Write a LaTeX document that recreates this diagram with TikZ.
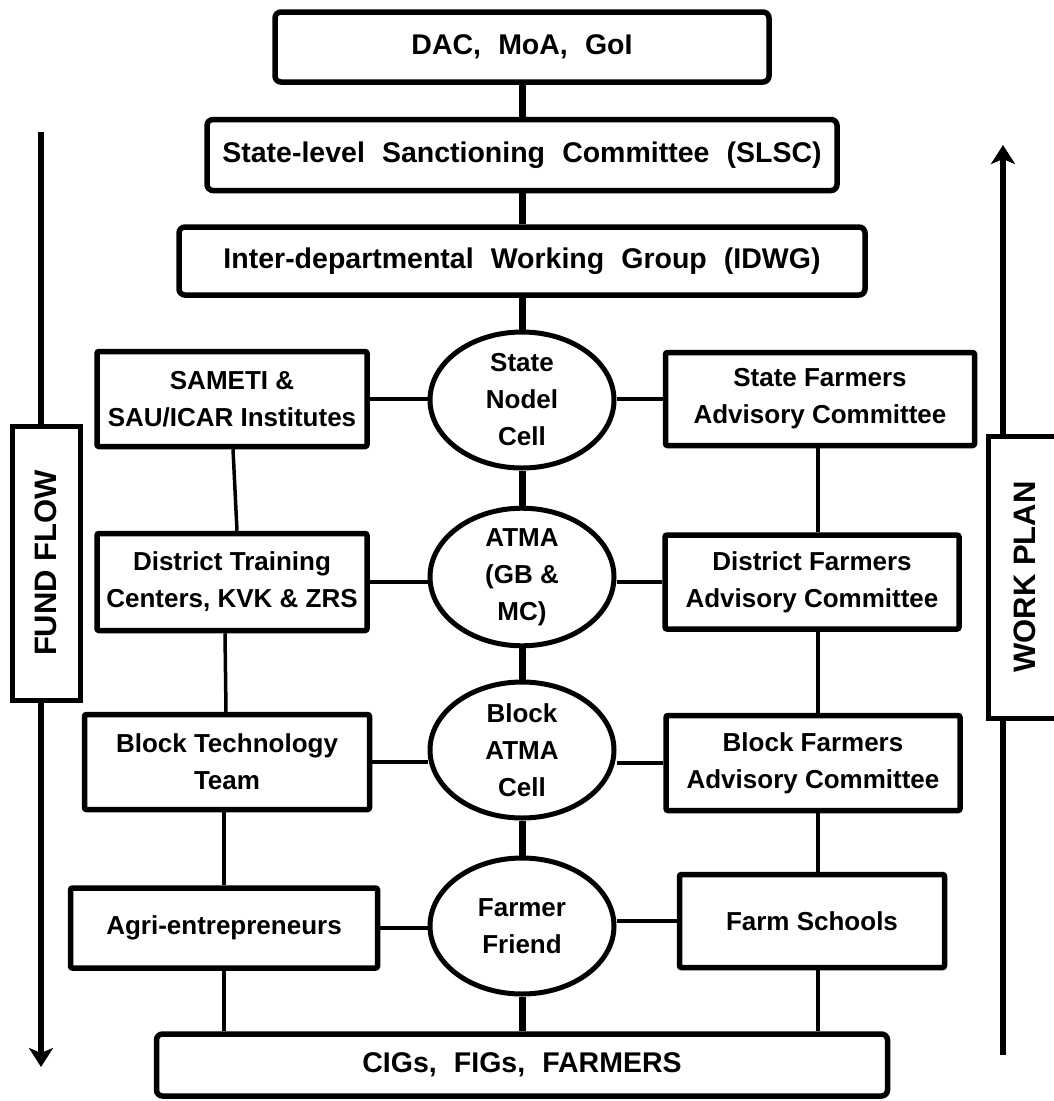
\documentclass[tikz,border=0pt]{standalone}
\usepackage{fontspec}
\setmainfont{Liberation Sans}
\usetikzlibrary{positioning,calc,arrows.meta,shapes.geometric}
\tikzset{>=Stealth}
\newcommand\widegap{\spaceskip=0.6em\relax}

\begin{document}
\begin{tikzpicture}[x=1pt,y=-1pt,
  every node/.style={font=\bfseries\fontsize{26}{37}\selectfont,align=center,inner sep=0pt},
  topbox/.style={draw,line width=5.5pt,rounded corners=6pt,
    font=\bfseries\fontsize{28.5}{37}\selectfont,execute at begin node=\widegap},
  sidebox/.style={draw,line width=5.5pt,rounded corners=2pt},
  cell/.style={ellipse,draw,line width=5pt,minimum width=184pt,minimum height=136pt},
  flowbox/.style={draw,line width=5pt,rotate=90,font=\bfseries\fontsize{31}{36}\selectfont},
  spine/.style={line width=7pt},
  link/.style={line width=3.5pt},
  flowline/.style={line width=6pt},
  flow/.style={line width=6pt,-{Stealth[length=19pt,width=24pt,inset=5pt]}}]
\useasboundingbox (0,0) rectangle (1054,1101);
% central column
\node[topbox,minimum width=494pt,minimum height=70pt] (dac) at (522,47) {DAC, MoA, GoI};
\node[topbox,minimum width=630pt,minimum height=71pt] (slsc) at (522,155) {State-level Sanctioning Committee (SLSC)};
\node[topbox,minimum width=686pt,minimum height=68pt] (idwg) at (522,261) {Inter-departmental Working Group (IDWG)};
\node[cell] (snc) at (522,400) {State\\Nodel\\Cell};
\node[cell] (atma) at (522,577) {ATMA\\(GB \&\\MC)};
\node[cell] (bac) at (522,750) {Block\\ATMA\\Cell};
\node[cell] (ff) at (522,926) {Farmer\\Friend};
\node[topbox,minimum width=731pt,minimum height=62pt] (cigs) at (522,1065) {CIGs, FIGs, FARMERS};
% left column
\node[sidebox,minimum width=270pt,minimum height=95pt] (sameti) at (232,399) {SAMETI \&\\SAU/ICAR Institutes};
\node[sidebox,minimum width=270pt,minimum height=97pt] (dtc) at (232,582) {District Training\\Centers, KVK \& ZRS};
\node[sidebox,minimum width=285pt,minimum height=95pt] (btt) at (227,762) {Block Technology\\Team};
\node[sidebox,minimum width=307pt,minimum height=80pt] (agri) at (224,928) {Agri-entrepreneurs};
% right column
\node[sidebox,minimum width=309pt,minimum height=93pt] (sfac) at (820,399) {State Farmers\\Advisory Committee};
\node[sidebox,minimum width=294pt,minimum height=94pt] (dfac) at (812,582) {District Farmers\\Advisory Committee};
\node[sidebox,minimum width=294pt,minimum height=95pt] (bfac) at (813,763) {Block Farmers\\Advisory Committee};
\node[sidebox,minimum width=265pt,minimum height=93pt] (fs) at (812,921) {Farm Schools};
\coordinate (rline) at (818,0);
% side flows
\node[flowbox,minimum width=274pt,minimum height=68pt] (fund) at (46,563) {FUND FLOW};
\node[flowbox,minimum width=282pt,minimum height=74pt] (plan) at (1025,577) {WORK PLAN};
\coordinate (fundtop) at (41,132);
\coordinate (fundend) at (41,1067);
\coordinate (plantop) at (1003,145);
\coordinate (planend) at (1003,1055);

\draw[spine] (dac) -- (slsc);
\draw[spine] (slsc) -- (idwg);
\draw[spine] (idwg) -- (snc);
\draw[spine] (snc) -- (atma);
\draw[spine] (atma) -- (bac);
\draw[spine] (bac) -- (ff);
\draw[spine] (ff) -- (cigs);

\draw[link] (sameti.east) -- (sameti.east -| snc.west);
\draw[link] (dtc.east) -- (dtc.east -| atma.west);
\draw[link] (btt.east) -- (btt.east -| bac.west);
\draw[link] (agri.east) -- (agri.east -| ff.west);
\draw[link] (sfac.west) -- (sfac.west -| snc.east);
\draw[link] (dfac.west) -- (dfac.west -| atma.east);
\draw[link] (bfac.west) -- (bfac.west -| bac.east);
\draw[link] (fs.west) -- (fs.west -| ff.east);

\draw[link] ([xshift=1pt]sameti.south) -- ([xshift=5pt]dtc.north);
\draw[link] ([xshift=-7pt]dtc.south) -- ([xshift=-1pt]btt.north);
\draw[link] (agri.north) -- (agri.north |- btt.south);
\draw[link] (agri.south) -- (agri.south |- cigs.north);
\draw[link] (sfac.south -| rline) -- (dfac.north -| rline);
\draw[link] (dfac.south -| rline) -- (bfac.north -| rline);
\draw[link] (bfac.south -| rline) -- (fs.north -| rline);
\draw[link] (fs.south -| rline) -- (cigs.north -| rline);

\draw[flowline] (fundtop) -- (fundtop |- fund.east);
\draw[flow] (fundtop |- fund.west) -- (fundend);
\draw[flowline] (planend) -- (planend |- plan.west);
\draw[flow] (plantop |- plan.east) -- (plantop);
\end{tikzpicture}
\end{document}
